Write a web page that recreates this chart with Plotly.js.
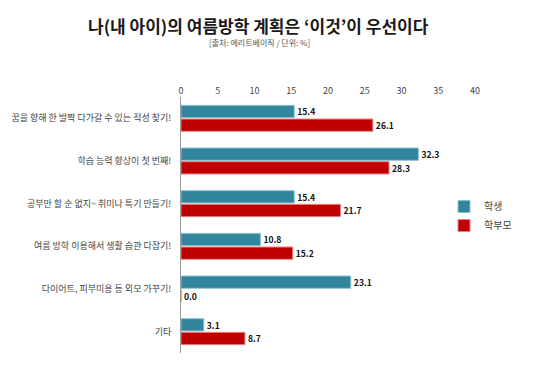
<!DOCTYPE html>
<html>
<head>
<meta charset="utf-8">
<script src="https://cdn.plot.ly/plotly-3.0.1.min.js"></script>
<style>html,body{margin:0;padding:0;background:#fff;}#chart{width:540px;height:373px;}</style>
</head>
<body>
<div id="chart"></div>
<script>
const categories = [
  "꿈을 향해 한 발짝 다가갈 수 있는 적성 찾기!",
  "학습 능력 향상이 첫 번째!",
  "공부만 할 순 없지~ 취미나 특기 만들기!",
  "여름 방학 이용해서 생활 습관 다잡기!",
  "다이어트, 피부미용 등 외모 가꾸기!",
  "기타"
];
const students = [15.4, 32.3, 15.4, 10.8, 23.1, 3.1];
const parents = [26.1, 28.3, 21.7, 15.2, 0.0, 8.7];
const xTicks = [0, 5, 10, 15, 20, 25, 30, 35, 40];

const FONT = "'Noto Sans CJK KR', 'Noto Sans', sans-serif";

const traces = [
  {
    type: 'bar', orientation: 'h', name: '학생',
    y: categories, x: students,
    marker: {color: '#31859C', line: {color: '#8CC4D4', width: 1}},
    text: students.map(v => v.toFixed(1)), textposition: 'outside',
    textfont: {family: FONT, size: 14, color: '#111', weight: 'bold'},
    cliponaxis: false, hoverinfo: 'none'
  },
  {
    type: 'bar', orientation: 'h', name: '학부모',
    y: categories, x: parents,
    marker: {color: '#C00000', line: {color: '#E88080', width: 1}},
    text: parents.map(v => v.toFixed(1)), textposition: 'outside',
    textfont: {family: FONT, size: 14, color: '#111', weight: 'bold'},
    cliponaxis: false, hoverinfo: 'none'
  }
];

const plotL = 181, plotR = 65, plotT = 97, plotB = 20;
const plotW = 540 - plotL - plotR, plotH = 373 - plotT - plotB;

const layout = {
  width: 540, height: 373,
  margin: {l: plotL, r: plotR, t: plotT, b: plotB, autoexpand: false},
  paper_bgcolor: '#fff', plot_bgcolor: '#fff',
  font: {family: FONT, color: '#444'},
  barmode: 'group', bargap: 0.36, bargroupgap: 0.1,
  showlegend: true,
  legend: {
    x: (444 - plotL) / plotW, xanchor: 'left', y: 0.535, yanchor: 'middle',
    traceorder: 'normal', font: {size: 10, color: '#444', family: FONT},
    itemwidth: 30, tracegroupgap: 0, bgcolor: 'rgba(0,0,0,0)'
  },
  xaxis: {
    side: 'top', range: [0, 40], tickvals: xTicks,
    showgrid: false, zeroline: false, showline: false, ticks: '',
    tickfont: {size: 9, color: '#444', family: FONT}
  },
  yaxis: {
    autorange: 'reversed', showgrid: false, zeroline: false,
    showline: true, linecolor: '#999', linewidth: 1, ticks: '',
    ticklabelstandoff: 7,
    tickfont: {size: 9, color: '#444', family: FONT}
  },
  annotations: [
    {text: '<b>나(내 아이)의 여름방학 계획은 ‘이것’이 우선이다</b>', showarrow: false,
     xref: 'paper', yref: 'paper',
     x: (258 - plotL) / plotW, y: (373 - plotB - 25) / plotH,
     xanchor: 'center', yanchor: 'middle',
     font: {size: 17, color: '#1a1a1a', family: FONT}},
    {text: '[출처: 에리트베이직 / 단위: %]', showarrow: false,
     xref: 'paper', yref: 'paper',
     x: (259 - plotL) / plotW, y: (373 - plotB - 42) / plotH,
     xanchor: 'center', yanchor: 'middle',
     font: {size: 8, color: '#555', family: FONT}}
  ]
};

Plotly.newPlot('chart', traces, layout, {staticPlot: true});
</script>
</body>
</html>
